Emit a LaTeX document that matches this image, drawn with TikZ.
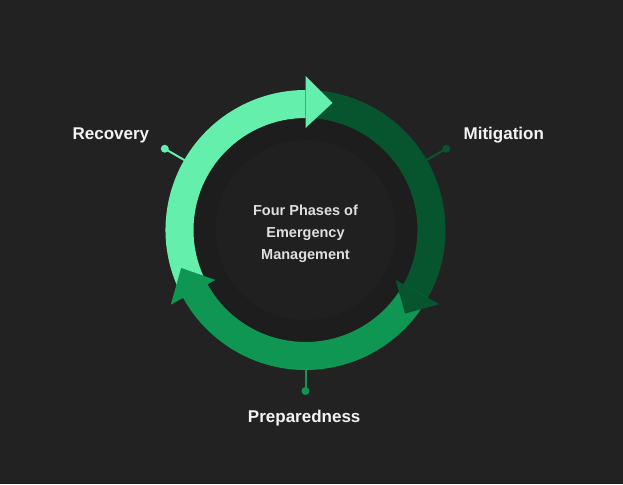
\documentclass[tikz,border=0pt]{standalone}
\usepackage{fontspec}
\setmainfont{Liberation Sans}
\begin{document}
\definecolor{bgc}{HTML}{222222}
\definecolor{innerc}{HTML}{1D1D1D}
\definecolor{diskc}{HTML}{202020}
\definecolor{lightg}{HTML}{64F0AC}
\definecolor{darkg}{HTML}{07552F}
\definecolor{midg}{HTML}{0E9652}
\definecolor{txtc}{HTML}{F2F2F2}
\begin{tikzpicture}[x=1pt,y=1pt,
  lbl/.style={text=txtc,font=\fontsize{17}{20}\selectfont\bfseries,anchor=base,inner sep=0pt},
  ctxt/.style={text=txtc!92!black,font=\fontsize{14.5}{22}\selectfont\bfseries,align=center,inner sep=0pt},
  dotc/.style={circle,inner sep=0pt,minimum size=8pt}]
\fill[bgc] (0,0) rectangle (623,484);
\useasboundingbox (0,0) rectangle (623,484);
\coordinate (C) at (305.5,254);
\fill[innerc] (C) circle[radius=112];
\fill[diskc] (C) circle[radius=90];
% bodies
\fill[lightg] ([shift={(C)}]209:140) arc[start angle=209,end angle=90,radius=140]
  -- ([shift={(C)}]90:112) arc[start angle=90,end angle=209,radius=112] -- cycle;
\fill[darkg] ([shift={(C)}]90:140) arc[start angle=90,end angle=-29,radius=140]
  -- ([shift={(C)}]-29:112) arc[start angle=-29,end angle=90,radius=112] -- cycle;
\fill[midg] ([shift={(C)}]-29:140) arc[start angle=-29,end angle=-151,radius=140]
  -- ([shift={(C)}]-151:112) arc[start angle=-151,end angle=-29,radius=112] -- cycle;
% heads
\fill[lightg] ([shift={(C)}]90:154) -- ([shift={(C)}]78:130) -- ([shift={(C)}]90:102) -- cycle;
\fill[darkg] ([shift={(C)}]-29:153) -- ([shift={(C)}]-40:130) -- ([shift={(C)}]-29:103) -- cycle;
\fill[midg] ([shift={(C)}]209:154) -- ([shift={(C)}]197:130) -- ([shift={(C)}]209:103) -- cycle;
% connectors
\coordinate (rA) at ([shift={(C)}]150:139);
\coordinate (mA) at ([shift={(C)}]30:139);
\coordinate (pA) at ([shift={(C)}]-90:139);
\node[dotc,fill=lightg] (rD) at ([shift={(C)}]150:162.5) {};
\node[dotc,fill=darkg] (mD) at ([shift={(C)}]30:162.5) {};
\node[dotc,fill=midg] (pD) at ([shift={(C)}]-90:161) {};
\draw[lightg,line width=2pt] (rA) -- (rD.center);
\draw[darkg,line width=2pt] (mA) -- (mD.center);
\draw[midg,line width=2pt] (pA) -- (pD.center);
% labels
\node[lbl] (rec) at (110.9,344) {Recovery};
\node[lbl] (mit) at (503.8,344) {Mitigation};
\node[lbl] (prep) at (304.2,61.7) {Preparedness};
\node[ctxt] (title) at (305.5,250.5) {Four Phases of\\Emergency\\Management};
\end{tikzpicture}
\end{document}
